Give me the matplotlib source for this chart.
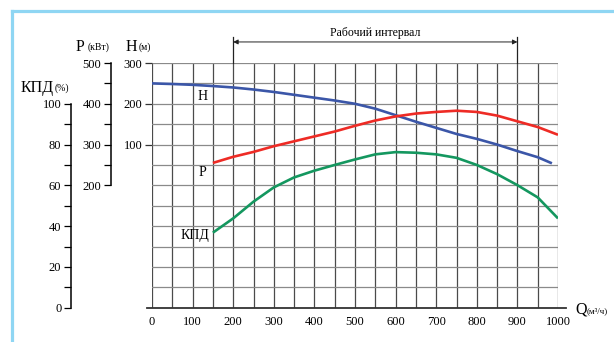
import matplotlib
matplotlib.use('Agg')
import matplotlib.pyplot as plt
from matplotlib.lines import Line2D
from matplotlib.ticker import FixedLocator

plt.rcParams['font.family'] = ['Liberation Serif', 'DejaVu Serif']

# ---- data ----
q_head = [0, 50, 100, 150, 200, 250, 300, 350, 400, 450, 500, 550, 600, 650,
          700, 750, 800, 850, 900, 950, 985]
head = [250, 248.5, 246.5, 243.5, 240, 235, 229, 222, 215, 208, 200, 188, 172,
        156, 141, 126, 114, 100, 84, 69, 54]

q_power = [150, 200, 250, 300, 350, 400, 450, 500, 550, 600, 650, 700, 750,
           800, 850, 900, 950, 1000]
power = [255, 270, 282, 296, 308, 320, 332, 346, 359, 369, 376, 380, 383, 380,
         371, 357, 343, 324]

q_eff = [150, 200, 250, 300, 350, 400, 450, 500, 550, 600, 650, 700, 750, 800,
         850, 900, 950, 1000]
eff = [36.8, 43.8, 52, 59, 63.9, 67.2, 70, 72.7, 75.2, 76.3, 76, 75.2, 73.5,
       70, 65.5, 60.1, 54.1, 43.8]

x_ticks = [0, 100, 200, 300, 400, 500, 600, 700, 800, 900, 1000]
h_ticks = [100, 200, 300]
p_ticks = [200, 300, 400, 500]
k_ticks = [0, 20, 40, 60, 80, 100]
work_range = (200, 900)

# ---- figure ----
W_PX, H_PX = 614, 342
fig = plt.figure(figsize=(W_PX / 100, H_PX / 100), dpi=100)
left, right, top, bottom = 152, 558, 63, 307.7
ax = fig.add_axes([left / W_PX, 1 - bottom / H_PX, (right - left) / W_PX,
                   (bottom - top) / H_PX])
ax.set_xlim(0, 1000)
ax.set_ylim(-300, 300)

grid_v = '#4a4a4a'
grid_h = '#8a8a8a'
for q in range(0, 1001, 50):
    ax.axvline(q, color=grid_v, lw=0.9, zorder=1)
for h in range(-300, 301, 50):
    ax.axhline(h, color=grid_h, lw=0.9, zorder=1)
for s in ax.spines.values():
    s.set_visible(False)

# bottom axis line extended
ax.plot([-0.012, 1.02], [0, 0], transform=ax.transAxes, color='#333333',
        lw=1.3, clip_on=False, zorder=3)

ax.set_xticks(x_ticks)
ax.tick_params(axis='x', length=0, pad=6, labelsize=9)
ax.set_yticks(h_ticks)
ax.tick_params(axis='y', length=5, width=0.9, color='#333333', pad=2,
               labelsize=9)

# P axis
axP = ax.twinx()
axP.set_ylim(-100, 500)
for k, s in axP.spines.items():
    s.set_visible(k == 'left')
axP.spines['left'].set_position(('axes', -41 / 406))
axP.spines['left'].set_bounds(200, 500)
axP.spines['left'].set_linewidth(1.1)
axP.yaxis.set_ticks_position('left')
axP.yaxis.set_label_position('left')
axP.yaxis.set_major_locator(FixedLocator(p_ticks))
axP.yaxis.set_minor_locator(FixedLocator([250, 350, 450]))
axP.tick_params(axis='y', which='both', length=5, width=0.9, pad=2,
                labelsize=9)

# KPD axis
axK = ax.twinx()
axK.set_ylim(0, 120)
for k, s in axK.spines.items():
    s.set_visible(k == 'left')
axK.spines['left'].set_position(('axes', -81 / 406))
axK.spines['left'].set_bounds(0, 100)
axK.spines['left'].set_linewidth(1.1)
axK.yaxis.set_ticks_position('left')
axK.yaxis.set_label_position('left')
axK.yaxis.set_major_locator(FixedLocator(k_ticks))
axK.yaxis.set_minor_locator(FixedLocator([10, 30, 50, 70, 90]))
axK.tick_params(axis='y', which='both', length=5, width=0.9, pad=2,
                labelsize=9)

# curves
ax.plot(q_head, head, color='#3b56a8', lw=1.9, zorder=5, solid_capstyle='butt')
axP.plot(q_power, power, color='#ee2b25', lw=1.9, zorder=5, solid_capstyle='butt')
axK.plot(q_eff, eff, color='#14975f', lw=1.9, zorder=5, solid_capstyle='butt')

# curve labels
ax.text(125, 219, 'H', fontsize=10, ha='center', va='center', zorder=6)
ax.text(125, 32, 'P', fontsize=10, ha='center', va='center', zorder=6)
ax.text(106, -124, 'КПД', fontsize=10, ha='center', va='center', zorder=6)

# working interval
xt = ax.get_xaxis_transform()
for q in work_range:
    ax.plot([q, q], [1.0, 1.106], transform=xt, color='#222222', lw=0.9,
            clip_on=False)
ax.annotate('', xy=(work_range[0], 1.086), xytext=(work_range[1], 1.086),
            xycoords=xt, textcoords=xt,
            arrowprops=dict(arrowstyle='<|-|>', color='#222222', lw=0.7,
                            shrinkA=0, shrinkB=0, mutation_scale=7))
ax.text(sum(work_range) / 2, 1.123, 'Рабочий интервал', transform=xt,
        ha='center', va='center', fontsize=8.5)

# axis titles (pixel positions)
def ftext(x, y, s, size):
    fig.text(x / W_PX, 1 - y / H_PX, s, fontsize=size, ha='left',
             va='baseline')

ftext(76, 51, 'P', 11.5)
ftext(88, 50, '(кВт)', 7)
ftext(126, 51, 'H', 11.5)
ftext(139, 50, '(м)', 7)
ftext(21, 92, 'КПД', 11.5)
ftext(55, 91, '(%)', 7)
ftext(575, 314, 'Q', 11.5)
ftext(587, 313, '(м³/ч)', 6.5)

# light blue frame
frame_c = '#8fd6f3'
fig.add_artist(Line2D([12 / W_PX, 12 / W_PX], [0, 1 - 11 / H_PX],
                      color=frame_c, lw=2.3, transform=fig.transFigure))
fig.add_artist(Line2D([12 / W_PX, 1], [1 - 11 / H_PX, 1 - 11 / H_PX],
                      color=frame_c, lw=2.3, transform=fig.transFigure))

fig.savefig('out.png', dpi=100)
